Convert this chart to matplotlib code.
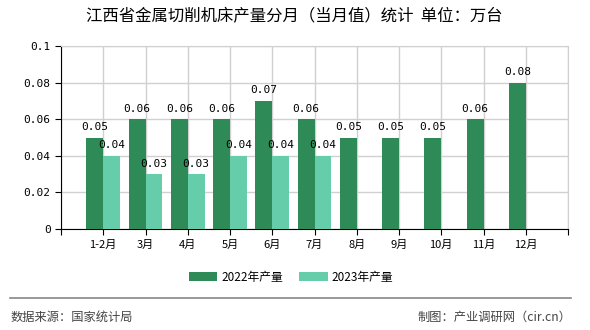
import matplotlib.pyplot as plt
import numpy as np

plt.rcParams['font.family'] = ['Noto Sans CJK SC', 'DejaVu Sans']

months = ["1-2月", "3月", "4月", "5月", "6月", "7月", "8月", "9月", "10月", "11月", "12月"]
prod_2022 = [0.05, 0.06, 0.06, 0.06, 0.07, 0.06, 0.05, 0.05, 0.05, 0.06, 0.08]
prod_2023 = [0.04, 0.03, 0.03, 0.04, 0.04, 0.04]

c22 = "#2e8b57"
c23 = "#66cdaa"

fig = plt.figure(figsize=(5.9, 3.3), dpi=100)
ax = fig.add_axes([61 / 590, 1 - 229 / 330, 507 / 590, 183 / 330])

x22 = np.arange(len(prod_2022))
x23 = np.arange(len(prod_2023))
w = 0.4
ax.bar(x22 - w / 2, prod_2022, w, color=c22, label="2022年产量", zorder=3)
ax.bar(x23 + w / 2, prod_2023, w, color=c23, label="2023年产量", zorder=3)

for xi, v in zip(x22, prod_2022):
    ax.text(xi - w / 2, v + 0.003, f"{v:.2f}", ha="center", va="bottom",
            fontsize=8, family="DejaVu Sans Mono")
for xi, v in zip(x23, prod_2023):
    ax.text(xi + w / 2, v + 0.003, f"{v:.2f}", ha="center", va="bottom",
            fontsize=8, family="DejaVu Sans Mono")

ax.set_xlim(-1, len(months))
ax.set_ylim(0, 0.1)
ax.set_xticks(np.arange(-1, len(months) + 1))
ax.set_xticklabels([""] + months + [""], fontsize=8)
ax.set_yticks([0, 0.02, 0.04, 0.06, 0.08, 0.1])
ax.set_yticklabels(["0", "0.02", "0.04", "0.06", "0.08", "0.1"], fontsize=8,
                   family="DejaVu Sans Mono")
ax.tick_params(length=4, color="black")
ax.grid(True, color="#d0d0d0", linewidth=1, zorder=0)
for s in ["top", "right"]:
    ax.spines[s].set_color("#d0d0d0")
ax.spines["left"].set_color("black")
ax.spines["bottom"].set_color("black")

fig.text(294 / 590, 1 - 17 / 330, "江西省金属切削机床产量分月（当月值）统计  单位：万台",
         ha="center", va="center", fontsize=11.8)

fig.legend(loc="center", bbox_to_anchor=(291 / 590, 1 - 277 / 330), ncol=2, frameon=False,
           fontsize=8.5, handlelength=2.4, handleheight=0.8, columnspacing=1.4,
           handletextpad=0.35)

fig.add_artist(plt.Line2D([10 / 590, 571 / 590], [1 - 298 / 330, 1 - 298 / 330],
                          color="#888888", linewidth=1.2))
fig.text(11 / 590, 1 - 317 / 330, "数据来源：国家统计局", ha="left", va="center",
         fontsize=8.8, color="#444444")
fig.text(571 / 590, 1 - 317 / 330, "制图：产业调研网（cir.cn）", ha="right", va="center",
         fontsize=8.8, color="#444444")

fig.savefig("out.png", dpi=100)
